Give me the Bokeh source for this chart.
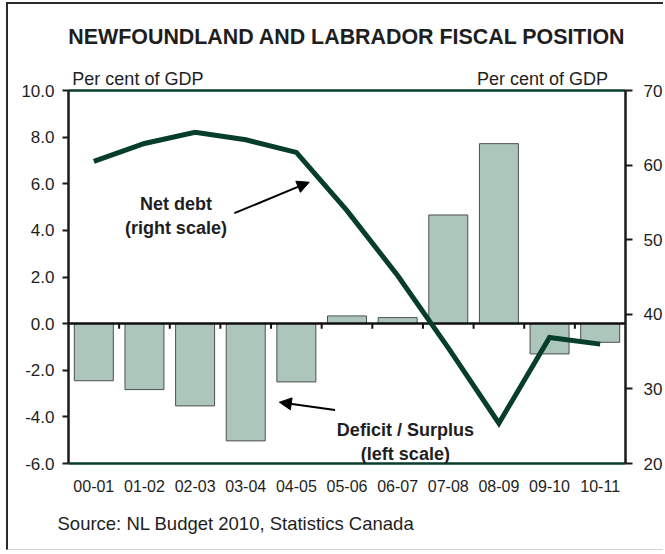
from bokeh.plotting import figure
from bokeh.models import (Range1d, LinearAxis, FixedTicker, PrintfTickFormatter,
                          Label, Arrow, NormalHead, Title)
from bokeh.embed import file_html
from bokeh.resources import INLINE

# ---- data ----
categories = ["00-01", "01-02", "02-03", "03-04", "04-05", "05-06",
              "06-07", "07-08", "08-09", "09-10", "10-11"]
deficit_surplus = [-2.45, -2.83, -3.53, -5.03, -2.5, 0.33, 0.26, 4.66, 7.72, -1.3, -0.8]
net_debt = [60.5, 62.9, 64.4, 63.4, 61.7, 53.9, 45.2, 35.5, 25.4, 36.9, 36.0]
left_ticks = [-6, -4, -2, 0, 2, 4, 6, 8, 10]
right_ticks = [20, 30, 40, 50, 60, 70]
unit_label = "Per cent of GDP"
unit_label_pos = [1.37, 9.36]
chart_title = "NEWFOUNDLAND AND LABRADOR FISCAL POSITION"

FONT = "Liberation Sans"
GREEN = "#063d2b"
TXT = "#1e1e1e"

n = len(categories)
xc = [i + 0.5 for i in range(n)]

p = figure(width=657, height=548, x_range=Range1d(0, n), y_range=Range1d(-6, 10),
           output_backend="svg", toolbar_location=None,
           min_border_left=60, min_border_right=37, min_border_top=86, min_border_bottom=89)
p.styles = {"border-left": "2px solid #2a2a2a", "border-top": "2px solid #2a2a2a",
            "border-bottom": "1px solid #d4d4d4",
            "margin-left": "6px", "margin-top": "2px"}
p.xgrid.visible = False
p.ygrid.visible = False
p.outline_line_color = None
p.background_fill_color = "white"
p.border_fill_color = "white"
p.title.visible = False
p.title.standoff = 0

# left axis
ya = p.yaxis[0]
ya.ticker = FixedTicker(ticks=left_ticks)
ya.formatter = PrintfTickFormatter(format="%.1f")
ya.axis_line_width = 2.5
ya.axis_line_color = "#1a1a1a"
ya.major_tick_out = 6
ya.major_tick_in = 0
ya.major_tick_line_width = 2
ya.major_tick_line_color = "#1a1a1a"
ya.minor_tick_line_color = None
ya.major_label_text_font = FONT
ya.major_label_text_font_size = "17px"
ya.major_label_text_color = TXT
ya.major_label_standoff = 8

# bottom axis (labels only, green frame line)
xa = p.xaxis[0]
xa.ticker = FixedTicker(ticks=xc)
xa.major_label_overrides = {x: c for x, c in zip(xc, categories)}
xa.axis_line_color = GREEN
xa.axis_line_width = 2.5
xa.major_tick_line_color = None
xa.minor_tick_line_color = None
xa.major_label_text_font = FONT
xa.major_label_text_font_size = "16px"
xa.major_label_text_color = TXT
xa.major_label_standoff = 10

# top frame line carrying the unit labels and the chart title
top = LinearAxis(ticker=FixedTicker(ticks=unit_label_pos),
                 major_label_overrides={x: unit_label for x in unit_label_pos},
                 axis_line_color=GREEN, axis_line_width=2.5,
                 major_tick_line_color=None, minor_tick_line_color=None,
                 major_label_text_font=FONT, major_label_text_font_size="18px",
                 major_label_text_color=TXT, major_label_standoff=-4,
                 axis_label=chart_title, axis_label_standoff=17,
                 axis_label_text_font=FONT, axis_label_text_font_size="21.4px",
                 axis_label_text_font_style="bold", axis_label_text_color=TXT,
                 axis_label_align="center")
p.add_layout(top, "above")

# right axis
p.extra_y_ranges = {"debt": Range1d(20, 70)}
ra = LinearAxis(y_range_name="debt", ticker=FixedTicker(ticks=right_ticks))
ra.axis_line_width = 2.5
ra.axis_line_color = "#1a1a1a"
ra.major_tick_out = 7
ra.major_tick_in = 0
ra.major_tick_line_width = 2
ra.major_tick_line_color = "#1a1a1a"
ra.minor_tick_line_color = None
ra.major_label_text_font = FONT
ra.major_label_text_font_size = "17px"
ra.major_label_text_color = TXT
ra.major_label_standoff = 11
p.add_layout(ra, "right")

# source note
src = Title(text="Source: NL Budget 2010, Statistics Canada", text_font=FONT,
            text_font_size="18.5px", text_font_style="normal", text_color=TXT,
            align="left", offset=-11, standoff=32)
p.add_layout(src, "below")

# bars
p.vbar(x=xc, top=deficit_surplus, bottom=0, width=0.77,
       fill_color="#adc6bb", line_color="#4f4f4f", line_width=1)

# zero line and boundary ticks
p.hspan(y=[0], line_color="#111111", line_width=2.5)
bounds = list(range(1, n))
p.segment(x0=bounds, y0=[0] * len(bounds), x1=bounds, y1=[-0.22] * len(bounds),
          line_color="#111111", line_width=2)

# net debt line
p.line(x=xc, y=net_debt, y_range_name="debt", line_color=GREEN, line_width=5,
       line_join="miter")

# annotations
def lab(x, y, t):
    p.add_layout(Label(x=x, y=y, text=t, text_font=FONT, text_font_size="18px",
                       text_font_style="bold", text_color=TXT,
                       text_align="center", text_baseline="alphabetic"))

lab(2.121, 5.110, "Net debt")
lab(2.121, 4.123, "(right scale)")
lab(6.653, -4.555, "Deficit / Surplus")
lab(6.653, -5.584, "(left scale)")

p.add_layout(Arrow(x_start=3.276, y_start=4.737, x_end=4.754, y_end=6.067,
                   line_width=2, line_color="black",
                   end=NormalHead(size=12, fill_color="black", line_color="black")))
p.add_layout(Arrow(x_start=5.264, y_start=-3.705, x_end=4.164, y_end=-3.371,
                   line_width=2, line_color="black",
                   end=NormalHead(size=12, fill_color="black", line_color="black")))

open("out.html", "w").write(file_html(p, INLINE))
